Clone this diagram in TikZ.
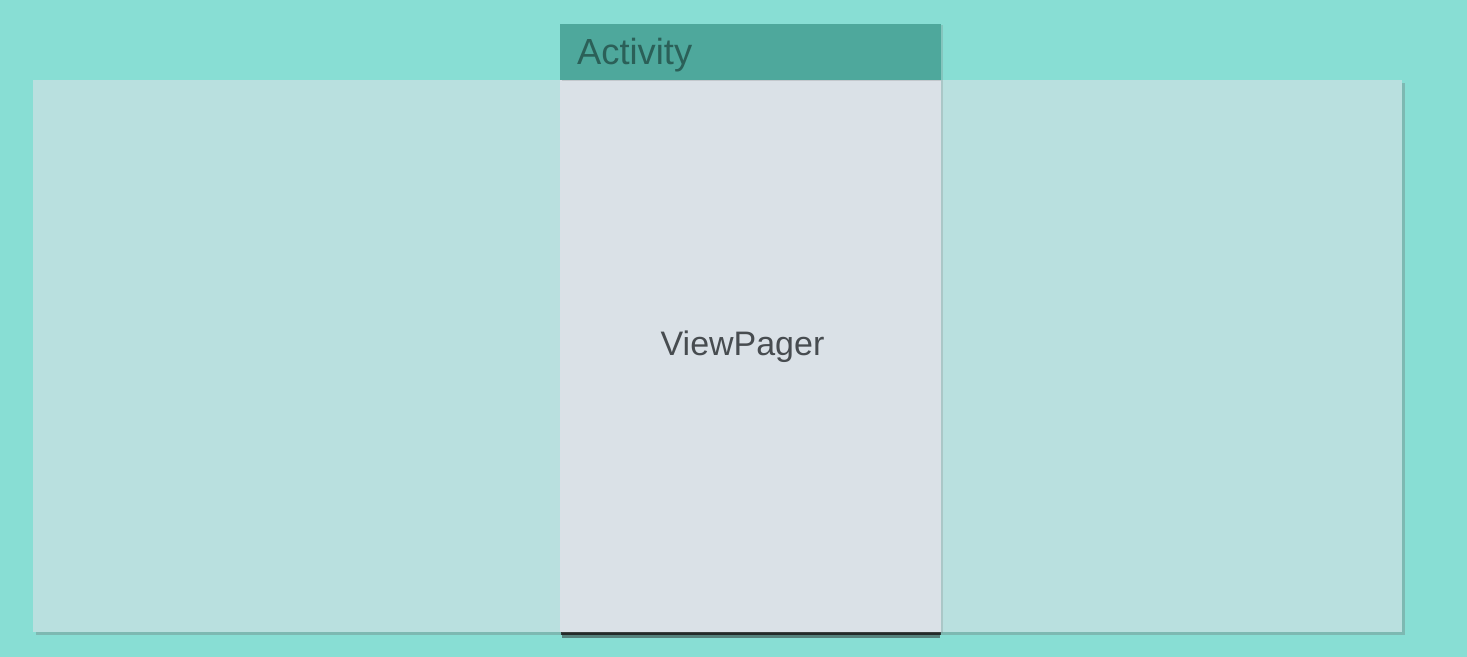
\documentclass[tikz,border=0pt]{standalone}
\usepackage{fontspec}
\setmainfont{Liberation Sans}
\usetikzlibrary{positioning,fit,shadows}

\definecolor{bgteal}{HTML}{88DED4}
\definecolor{stripcol}{HTML}{B9E0DF}
\definecolor{headcol}{HTML}{4EA89C}
\definecolor{bodycol}{HTML}{DAE1E7}
\definecolor{headtext}{HTML}{2B6058}
\definecolor{bodytext}{HTML}{474C50}

\tikzset{
  panel/.style={inner sep=0pt, outer sep=0pt, draw=none},
  label/.style={font=\fontsize{29}{32}\selectfont},
}

\begin{document}
\begin{tikzpicture}[x=0.03cm, y=-0.03cm]
        \fill[bgteal] (0,0) rectangle (1467,657);
        \useasboundingbox (0,0) rectangle (1467,657);
        % pages strip
        \node[panel, fill=stripcol, fit={(33,80) (1402,632)},
          drop shadow={shadow xshift=0.08cm, shadow yshift=-0.08cm, opacity=0.3, fill=black!60}] (strip) {};
        % activity
        \fill[black!85, opacity=0.5] (562,630) rectangle (940,638);
        \fill[black!90, opacity=0.8] (561,628) rectangle (941,635);
        \node[panel, fill=bodycol, fit={(560,80) (941,632)},
          drop shadow={shadow xshift=0.05cm, shadow yshift=-0.03cm, opacity=0.25}] (body) {};
        \node[panel, fill=headcol, fit={(560,24) (941,80)},
          drop shadow={shadow xshift=0.05cm, shadow yshift=-0.03cm, opacity=0.25}] (head) {};
        \node[label, font=\fontsize{31}{34}\selectfont, text=headtext, anchor=west]
          at ([xshift=0.39cm, yshift=-0.08cm]head.west) (act) {Activity};
        \node[label, text=bodytext] at ([xshift=-0.24cm, yshift=0.27cm]body.center) (vp) {ViewPager};
      \end{tikzpicture}
\end{document}
